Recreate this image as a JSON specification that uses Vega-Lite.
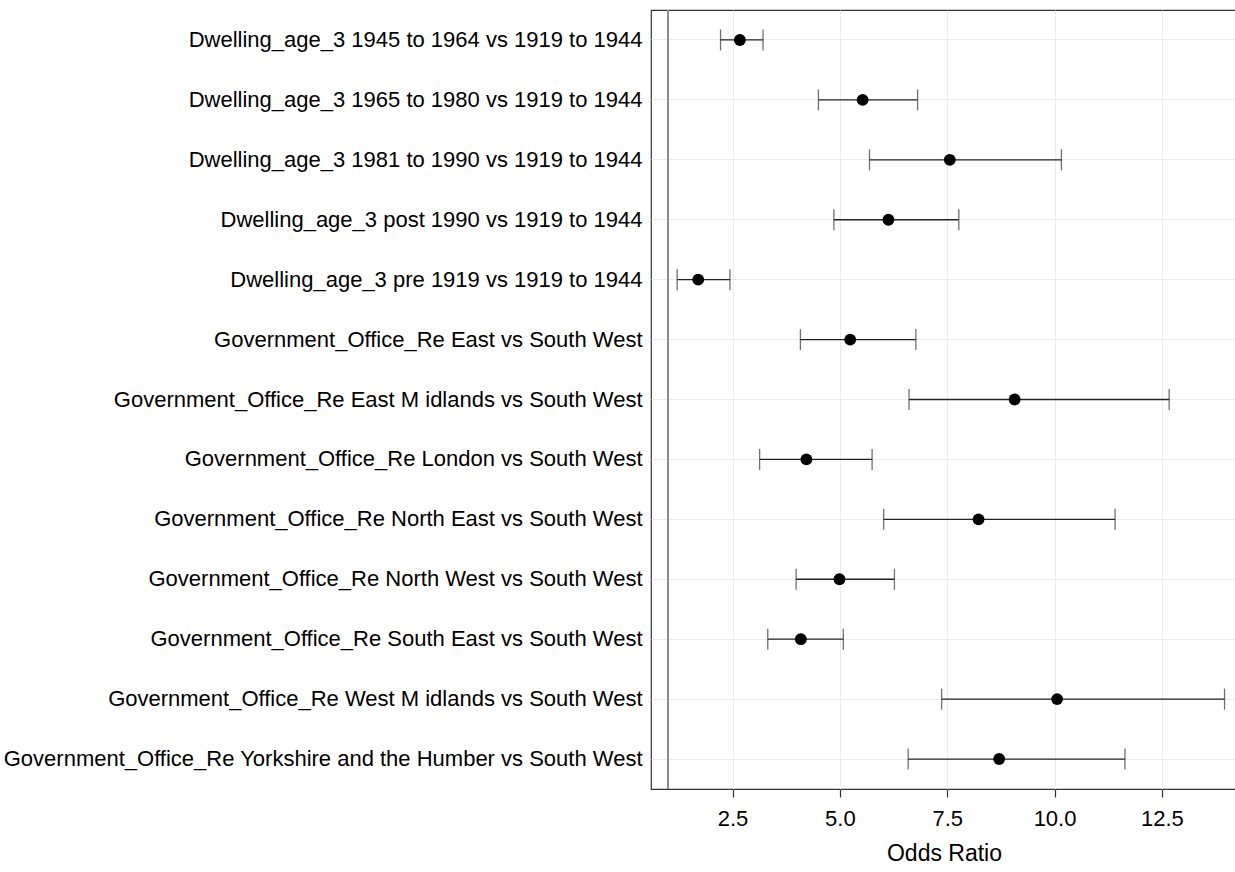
{
  "$schema": "https://vega.github.io/schema/vega-lite/v6.json",
  "width": 586,
  "height": 779,
  "autosize": {"type": "none"},
  "padding": {"left": 651, "top": 10, "right": 0, "bottom": 83},
  "background": "white",
  "config": {
    "font": "Liberation Sans",
    "view": {"stroke": "#333333", "strokeWidth": 1.2},
    "axis": {
      "domain": false,
      "gridColor": "#ebebeb",
      "gridWidth": 1,
      "labelColor": "black",
      "labelFont": "Liberation Sans",
      "titleFont": "Liberation Sans",
      "titleFontWeight": "normal",
      "titleColor": "black"
    }
  },
  "data": {
    "values": [
      {"term": "Dwelling_age_3 1945 to 1964 vs 1919 to 1944", "or": 2.67, "lo": 2.22, "hi": 3.21},
      {"term": "Dwelling_age_3 1965 to 1980 vs 1919 to 1944", "or": 5.53, "lo": 4.5, "hi": 6.81},
      {"term": "Dwelling_age_3 1981 to 1990 vs 1919 to 1944", "or": 7.56, "lo": 5.69, "hi": 10.16},
      {"term": "Dwelling_age_3 post 1990 vs 1919 to 1944", "or": 6.13, "lo": 4.86, "hi": 7.77},
      {"term": "Dwelling_age_3 pre 1919 vs 1919 to 1944", "or": 1.7, "lo": 1.21, "hi": 2.44},
      {"term": "Government_Office_Re East vs South West", "or": 5.24, "lo": 4.08, "hi": 6.77},
      {"term": "Government_Office_Re East M idlands vs South West", "or": 9.07, "lo": 6.61, "hi": 12.67},
      {"term": "Government_Office_Re London vs South West", "or": 4.22, "lo": 3.13, "hi": 5.75},
      {"term": "Government_Office_Re North East vs South West", "or": 8.23, "lo": 6.02, "hi": 11.41},
      {"term": "Government_Office_Re North West vs South West", "or": 4.99, "lo": 3.98, "hi": 6.27},
      {"term": "Government_Office_Re South East vs South West", "or": 4.09, "lo": 3.32, "hi": 5.08},
      {"term": "Government_Office_Re West M idlands vs South West", "or": 10.06, "lo": 7.37, "hi": 13.96},
      {"term": "Government_Office_Re Yorkshire and the Humber vs South West", "or": 8.71, "lo": 6.59, "hi": 11.64}
    ]
  },
  "encoding": {
    "y": {
      "field": "term",
      "type": "nominal",
      "sort": null,
      "scale": {"paddingInner": 0, "paddingOuter": 0},
      "axis": {
        "title": null,
        "ticks": false,
        "labelFontSize": 22,
        "labelPadding": 9,
        "labelLimit": 700,
        "grid": true
      }
    }
  },
  "layer": [
    {
      "mark": {"type": "rule", "color": "#8c8c8c", "strokeWidth": 1.5},
      "encoding": {
        "x": {
          "datum": 1,
          "type": "quantitative",
          "scale": {"domain": [0.6, 14.25], "nice": false, "zero": false},
          "axis": {
            "title": "Odds Ratio",
            "values": [2.5, 5, 7.5, 10, 12.5],
            "format": ".1f",
            "grid": true,
            "tickColor": "#333333",
            "tickSize": 8,
            "tickWidth": 1.2,
            "labelFontSize": 22,
            "labelPadding": 11,
            "titleFontSize": 23,
            "titlePadding": 13
          }
        },
        "y": null
      }
    },
    {
      "mark": {"type": "rule", "color": "#222222", "strokeWidth": 1.3},
      "encoding": {
        "x": {"field": "lo", "type": "quantitative"},
        "x2": {"field": "hi"}
      }
    },
    {
      "mark": {"type": "tick", "color": "#333333", "size": 21, "thickness": 1.3, "orient": "vertical"},
      "encoding": {
        "x": {"field": "lo", "type": "quantitative"}
      }
    },
    {
      "mark": {"type": "tick", "color": "#333333", "size": 21, "thickness": 1.3, "orient": "vertical"},
      "encoding": {
        "x": {"field": "hi", "type": "quantitative"}
      }
    },
    {
      "mark": {"type": "point", "filled": true, "color": "black", "opacity": 1, "size": 140},
      "encoding": {
        "x": {"field": "or", "type": "quantitative"}
      }
    }
  ]
}
